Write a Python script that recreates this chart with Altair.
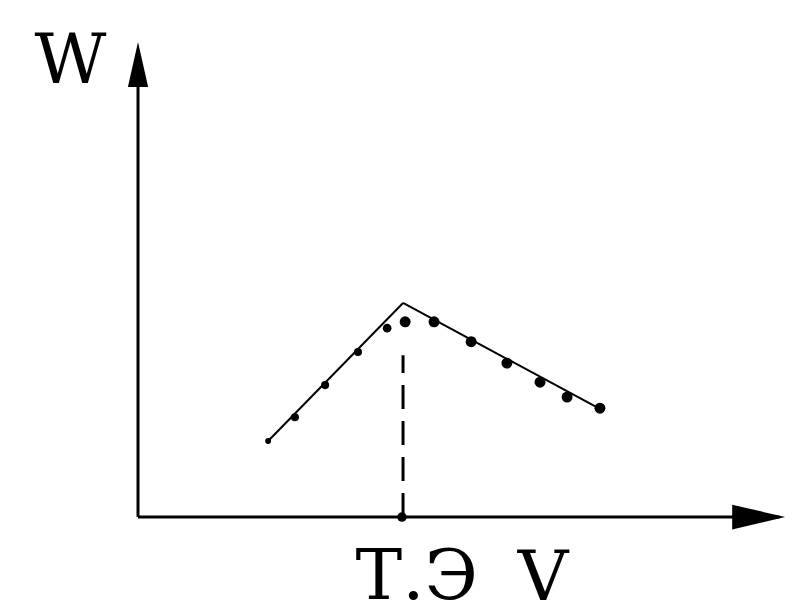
import altair as alt
import pandas as pd

# Measured points: rising branch (before the equivalence point)
rise_v = [4.91, 5.92, 7.06, 8.30, 9.40]
rise_w = [2.87, 3.77, 4.98, 6.23, 7.13]
rise_size = [35, 65, 65, 65, 75]
# Measured points: falling branch (after the equivalence point)
fall_v = [10.08, 11.17, 12.57, 13.92, 15.17, 16.19, 17.43]
fall_w = [7.37, 7.37, 6.62, 5.81, 5.09, 4.53, 4.11]
# Fitted straight lines
line_seg = ["rise", "rise", "fall", "fall"]
line_v = [4.91, 10.0, 10.0, 17.43]
line_w = [2.87, 8.08, 8.08, 4.08]
# Equivalence point
eq_v = 10.0
eq_w_top = 6.11
# Axes extents
axis_v_end = 24.2
axis_w_end = 17.3
arrow_up_pos = (0.0, 17.08)
arrow_right_pos = (23.42, 0.0)
# Labels
label_text = ["W", "V", "Т.Э"]
label_v = [-2.55, 15.28, 10.52]
label_w = [16.38, -3.13, -3.10]

xs = alt.Scale(domain=[-4.906, 25.13], nice=False, zero=False)
ys = alt.Scale(domain=[-3.43, 19.21], nice=False, zero=False)
X = lambda f: alt.X(f, type="quantitative", scale=xs, axis=None)
Y = lambda f: alt.Y(f, type="quantitative", scale=ys, axis=None)

axes_df = pd.DataFrame({
    "seg": ["x", "x", "y", "y"],
    "V": [0, axis_v_end, 0, 0],
    "W": [0, 0, 0, axis_w_end],
})
axes = alt.Chart(axes_df).mark_line(color="black", strokeWidth=3).encode(
    x=X("V"), y=Y("W"), detail="seg:N")

arrow_up = alt.Chart(pd.DataFrame({"V": [arrow_up_pos[0]], "W": [arrow_up_pos[1]]})).mark_point(
    shape="M0,-1L0.45,1L-0.45,1Z", filled=True, size=2025, color="black", opacity=1, strokeWidth=0
).encode(x=X("V"), y=Y("W"))
arrow_right = alt.Chart(pd.DataFrame({"V": [arrow_right_pos[0]], "W": [arrow_right_pos[1]]})).mark_point(
    shape="M1,0L-1,-0.47L-1,0.47Z", filled=True, size=2809, color="black", opacity=1, strokeWidth=0
).encode(x=X("V"), y=Y("W"))

lines_df = pd.DataFrame({"seg": line_seg, "V": line_v, "W": line_w})
lines = alt.Chart(lines_df).mark_line(color="black", strokeWidth=2).encode(
    x=X("V"), y=Y("W"), detail="seg:N")

dash_df = pd.DataFrame({"V": [eq_v, eq_v], "W": [0, eq_w_top]})
dash = alt.Chart(dash_df).mark_line(color="black", strokeWidth=3, strokeDash=[24, 12]).encode(
    x=X("V"), y=Y("W"))

rise_df = pd.DataFrame({"V": rise_v, "W": rise_w, "s": rise_size})
rise_pts = alt.Chart(rise_df).mark_point(shape="circle", filled=True, color="black", opacity=1).encode(
    x=X("V"), y=Y("W"), size=alt.Size("s:Q", scale=None, legend=None))

fall_df = pd.DataFrame({"V": fall_v, "W": fall_w})
fall_pts = alt.Chart(fall_df).mark_point(shape="circle", filled=True, color="black", opacity=1, size=120).encode(
    x=X("V"), y=Y("W"))

eq_pt = alt.Chart(pd.DataFrame({"V": [eq_v - 0.04], "W": [0]})).mark_point(
    shape="circle", filled=True, color="black", opacity=1, size=90).encode(x=X("V"), y=Y("W"))

labels_df = pd.DataFrame({"t": label_text, "V": label_v, "W": label_w})
labels = alt.Chart(labels_df).mark_text(
    font="DejaVu Serif, Noto Serif, Liberation Serif, Times New Roman, serif", fontSize=70, color="black",
    align="center", baseline="alphabetic"
).encode(x=X("V"), y=Y("W"), text="t:N")

chart = alt.layer(axes, arrow_up, arrow_right, lines, dash, rise_pts, fall_pts, eq_pt, labels).properties(
    width=796, height=600, padding={"left": 0, "top": 0, "right": 0, "bottom": 8},
    autosize="none", background="white"
).configure_view(stroke=None)

chart.save("out.html", embed_options={"renderer": "svg", "actions": False})
